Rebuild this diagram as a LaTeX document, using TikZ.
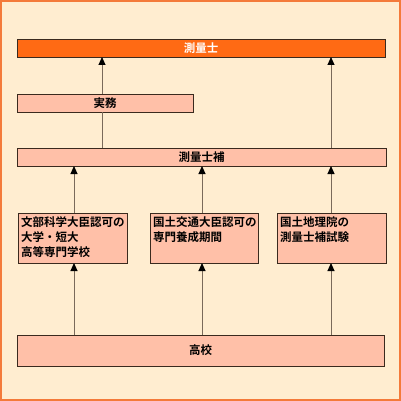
\documentclass[tikz,border=0pt]{standalone}
\usepackage{fontspec}
\setmainfont{Noto Sans CJK JP}[BoldFont={Noto Sans CJK JP Bold}]
\usetikzlibrary{arrows.meta}
\definecolor{bgcream}{HTML}{FFEDD0}
\definecolor{frameor}{HTML}{F47A3A}
\definecolor{topor}{HTML}{FF6A14}
\definecolor{boxsal}{HTML}{FFC0A8}
\definecolor{boxline}{HTML}{3A2A1E}
\definecolor{conline}{HTML}{7A6A5A}
\tikzset{
  every node/.style={font=\bfseries\fontsize{11.5}{15}\selectfont, inner sep=0pt, outer sep=0pt},
  bar/.style={draw=boxline, line width=0.8pt, fill=boxsal, text=black, anchor=north west, align=center},
  topbar/.style={bar, fill=topor, text=white},
  qbox/.style={draw=boxline, line width=0.8pt, fill=boxsal, anchor=north west, align=left},
  conn/.style={draw=conline, line width=1pt},
  arr/.style={conn, -{Triangle[length=8pt,width=7pt,fill=black,color=black]}},
}
\begin{document}
\begin{tikzpicture}[x=1pt,y=-1pt]
\useasboundingbox (0,0) rectangle (401,401);
\fill[bgcream] (0,0) rectangle (401,401);
\draw[frameor, line width=2pt] (1,1) rectangle (400,400);

\node[topbar, minimum width=368pt, minimum height=18pt] (surv) at (17,39) {測量士};
\node[bar, minimum width=176pt, minimum height=18pt] (jitsumu) at (17,94) {実務};
\node[bar, minimum width=369pt, minimum height=18pt] (ho) at (17,148) {測量士補};

\node[qbox, minimum width=109pt, minimum height=50pt] (b1) at (18,213) {};
\node[anchor=north west, align=left] (t1) at (21,217) {文部科学大臣認可の\\大学・短大\\高等専門学校};
\node[qbox, minimum width=108pt, minimum height=50pt] (b2) at (150,213) {};
\node[anchor=north west, align=left] (t2) at (153,217) {国土交通大臣認可の\\専門養成期間};
\node[qbox, minimum width=109pt, minimum height=50pt] (b3) at (277,213) {};
\node[anchor=north west, align=left] (t3) at (280,217) {国土地理院の\\測量士補試験};

\node[bar, minimum width=367pt, minimum height=31pt] (koko) at (17,335) {高校};

% connectors
\draw[arr] (jitsumu.north -| 102,0) -- (surv.south -| 102,0);
\draw[conn] (ho.north -| 102,0) -- (jitsumu.south -| 102,0);
\draw[arr] (ho.north -| 331,0) -- (surv.south -| 331,0);
\draw[arr] (b1.north -| 74,0) -- (ho.south -| 74,0);
\draw[arr] (b2.north -| 202,0) -- (ho.south -| 202,0);
\draw[arr] (b3.north -| 331,0) -- (ho.south -| 331,0);
\draw[arr] (koko.north -| 74,0) -- (b1.south -| 74,0);
\draw[arr] (koko.north -| 202,0) -- (b2.south -| 202,0);
\draw[arr] (koko.north -| 331,0) -- (b3.south -| 331,0);
\end{tikzpicture}
\end{document}
